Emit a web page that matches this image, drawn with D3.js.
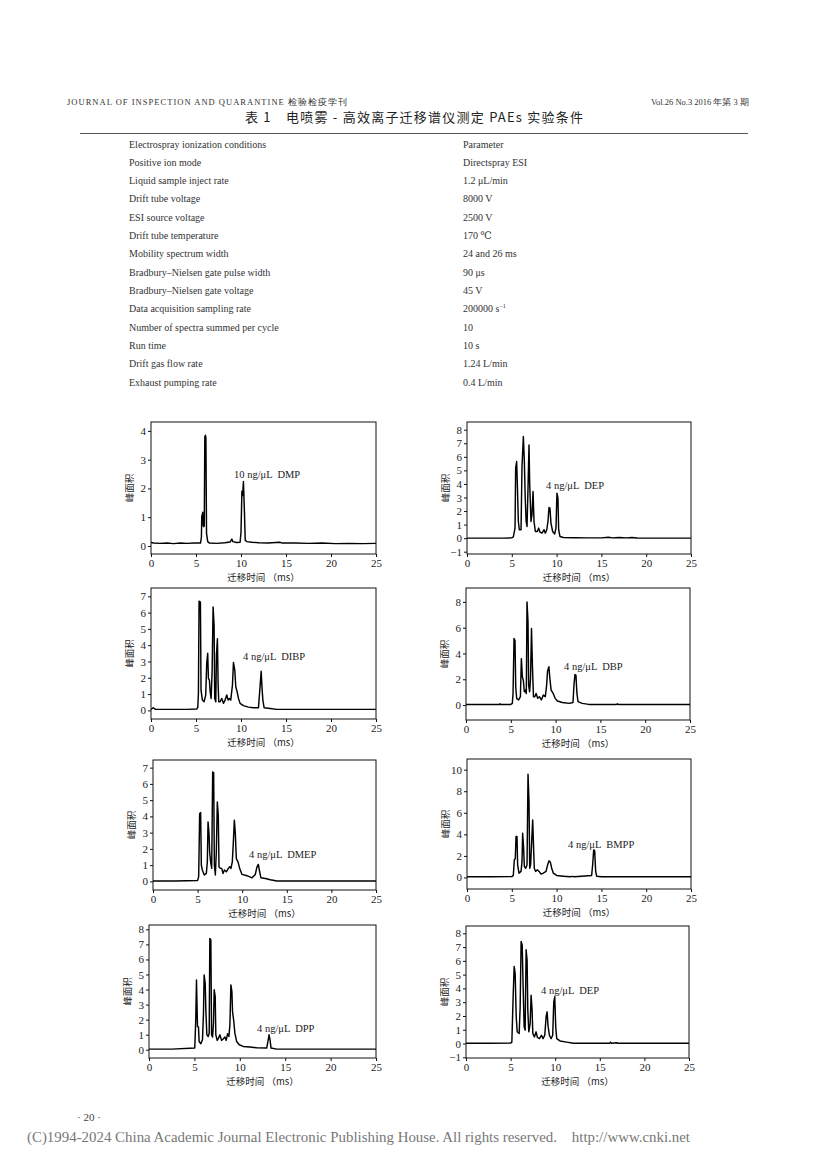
<!DOCTYPE html>
<html><head><meta charset="utf-8">
<script src="https://cdn.jsdelivr.net/npm/d3@7"></script>
<style>
html,body{margin:0;padding:0;background:#fff;}
svg{display:block;}
.serif{font-family:"Liberation Serif","DejaVu Serif",serif;}
.cjk{font-family:"Noto Sans CJK SC","Noto Sans",sans-serif;}
</style></head>
<body><svg id="page" width="826" height="1169"></svg>
<script>
// ---------- DATA ----------
const headerLeft = "JOURNAL OF INSPECTION AND QUARANTINE 检验检疫学刊";
const headerRight = "Vol.26 No.3 2016 年第 3 期";
const tableTitle = "表 1　电喷雾 - 高效离子迁移谱仪测定 PAEs 实验条件";
const conditionNames = ["Electrospray ionization conditions","Positive ion mode","Liquid sample inject rate","Drift tube voltage","ESI source voltage","Drift tube temperature","Mobility spectrum width","Bradbury–Nielsen gate pulse width","Bradbury–Nielsen gate voltage","Data acquisition sampling rate","Number of spectra summed per cycle","Run time","Drift gas flow rate","Exhaust pumping rate"];
const conditionValues = ["Parameter","Directspray ESI","1.2 μL/min","8000 V","2500 V","170 ℃","24 and 26 ms","90 μs","45 V","200000 s^-1","10","10 s","1.24 L/min","0.4 L/min"];
const pageNumber = "· 20 ·";
const copyright = "(C)1994-2024 China Academic Journal Electronic Publishing House. All rights reserved.    http://www.cnki.net";

const xTicks = [0,5,10,15,20,25];
const xLabel = "迁移时间 （ms）";
const yLabel = "峰面积";
const sampleLabels = ["10 ng/μL  DMP","4 ng/μL  DEP","4 ng/μL  DIBP","4 ng/μL  DBP","4 ng/μL  DMEP","4 ng/μL  BMPP","4 ng/μL  DPP","4 ng/μL  DEP"];
const yTicksDMP = [0,1,2,3,4];
const yTicksDEP = [-1,0,1,2,3,4,5,6,7,8];
const yTicksDIBP = [0,1,2,3,4,5,6,7];
const yTicksDBP = [0,2,4,6,8];
const yTicksDMEP = [0,1,2,3,4,5,6,7];
const yTicksBMPP = [0,2,4,6,8,10];
const yTicksDPP = [0,1,2,3,4,5,6,7,8];
const yTicksDEP2 = [-1,0,1,2,3,4,5,6,7,8];

// spectra: [drift time (ms), peak area]
const specDMP = [[0,0.12],[0.3,0.1],[1,0.09],[1.8,0.1],[2.5,0.08],[3.3,0.1],[4,0.09],[4.8,0.1],[5.5,0.1],[5.6,0.3],[5.64,1.02],[5.75,1.17],[5.8,0.7],[5.86,0.67],[5.92,0.7],[5.98,3.8],[6.05,3.85],[6.1,3.75],[6.17,0.44],[6.3,0.15],[6.5,0.1],[7.3,0.09],[8.2,0.11],[8.8,0.14],[8.98,0.24],[9.1,0.15],[9.5,0.12],[9.9,0.13],[10.0,0.47],[10.1,1.9],[10.18,1.75],[10.27,2.24],[10.38,1.2],[10.47,0.2],[10.65,0.15],[11.2,0.13],[12,0.11],[13,0.1],[14.3,0.13],[14.6,0.1],[16,0.1],[17.5,0.09],[19,0.1],[20.5,0.08],[22,0.09],[23.5,0.08],[25,0.09]];
const specDEP = [[0,0],[2,0],[4,0],[4.98,0.02],[5.17,0.1],[5.36,0.74],[5.43,5.16],[5.54,5.65],[5.62,3.93],[5.73,1.23],[5.84,0.62],[6.03,0.62],[6.14,5.29],[6.29,7.5],[6.4,5.66],[6.5,2.95],[6.6,1.23],[6.7,0.86],[6.8,3.44],[6.92,6.88],[7.0,3.93],[7.14,1.23],[7.25,1.72],[7.37,3.44],[7.48,1.23],[7.63,0.49],[7.85,0.49],[8.0,0.74],[8.15,0.44],[8.37,0.37],[8.6,0.62],[8.74,0.37],[8.9,0.62],[9.04,1.23],[9.15,2.26],[9.26,2.21],[9.37,1.11],[9.56,0.49],[9.78,0.3],[9.93,0.74],[10.04,3.32],[10.15,2.95],[10.23,0.62],[10.38,0.12],[10.75,0.05],[12,0.03],[13.5,0.02],[15,0.02],[15.8,0.06],[16.2,0.02],[17,0.05],[17.8,0.02],[18.4,0.05],[19,0.01],[21,0],[25,0]];
const specDIBP = [[0,0.06],[0.25,0.16],[0.5,0.06],[2,0.06],[4,0.06],[5.1,0.08],[5.2,0.2],[5.27,1.04],[5.34,6.7],[5.49,6.65],[5.56,1.24],[5.71,0.63],[5.9,0.53],[6.08,0.94],[6.19,2.88],[6.3,3.5],[6.38,1.96],[6.49,1.86],[6.57,1.14],[6.68,0.73],[6.79,2.37],[6.9,6.35],[7.01,5.2],[7.08,0.73],[7.2,0.53],[7.27,3.4],[7.38,4.4],[7.46,1.55],[7.53,0.53],[7.68,0.53],[7.86,0.73],[8.05,0.43],[8.23,0.63],[8.42,0.94],[8.57,0.63],[8.72,0.73],[8.86,0.63],[9.05,1.55],[9.16,2.94],[9.31,2.47],[9.42,1.45],[9.57,1.14],[9.72,0.73],[9.9,0.43],[10.27,0.29],[10.83,0.2],[11.39,0.16],[11.94,0.16],[12.13,1.55],[12.24,2.4],[12.35,1.24],[12.43,0.63],[12.57,0.16],[13.24,0.12],[13.98,0.06],[25,0.06]];
const specDBP = [[0,0.05],[3.75,0.05],[3.8,0.1],[3.85,0.05],[5.0,0.05],[5.17,0.13],[5.25,0.9],[5.36,5.16],[5.47,5.0],[5.55,1.4],[5.66,0.5],[5.88,0.4],[6.07,0.65],[6.18,3.6],[6.29,2.2],[6.4,1.9],[6.51,1.03],[6.62,1.16],[6.73,0.9],[6.81,8.0],[6.92,6.45],[6.99,1.55],[7.1,1.03],[7.2,2.06],[7.31,5.94],[7.42,2.9],[7.53,0.65],[7.68,0.65],[7.82,0.9],[8.0,0.52],[8.19,0.65],[8.41,0.4],[8.63,0.77],[8.85,0.65],[9.0,1.55],[9.1,2.63],[9.25,2.97],[9.36,2.06],[9.5,1.16],[9.73,0.9],[9.95,0.52],[10.2,0.31],[10.76,0.2],[11.5,0.13],[11.94,0.2],[12.05,1.55],[12.16,2.37],[12.27,2.32],[12.38,0.9],[12.5,0.26],[12.97,0.13],[13.7,0.05],[16.8,0.05],[16.9,0.1],[17,0.05],[25,0.05]];
const specDMEP = [[0,0.02],[2.5,0.02],[5.0,0.06],[5.12,0.29],[5.23,4.17],[5.34,4.24],[5.42,1.0],[5.53,0.7],[5.75,0.39],[5.98,0.49],[6.09,1.2],[6.17,3.66],[6.28,2.95],[6.35,1.82],[6.46,1.2],[6.58,0.8],[6.69,6.73],[6.8,6.69],[6.88,1.0],[6.99,0.39],[7.1,1.82],[7.21,4.89],[7.32,4.07],[7.4,0.9],[7.55,0.8],[7.7,0.8],[7.85,0.49],[8.0,0.7],[8.22,0.59],[8.45,0.8],[8.6,0.9],[8.74,0.8],[8.89,1.2],[9.0,2.33],[9.12,3.77],[9.23,2.95],[9.34,1.41],[9.53,1.2],[9.72,0.8],[9.98,0.43],[10.54,0.35],[11.1,0.22],[11.47,0.43],[11.66,0.9],[11.81,1.04],[11.92,0.7],[12.1,0.22],[12.6,0.18],[13.15,0.1],[13.9,0.02],[25,0.02]];
const specBMPP = [[0,0.06],[2.5,0.06],[5.0,0.08],[5.17,0.19],[5.28,1.64],[5.39,1.73],[5.47,3.8],[5.58,3.8],[5.65,1.17],[5.8,0.4],[6.03,0.56],[6.14,1.48],[6.21,4.1],[6.32,2.72],[6.4,1.02],[6.55,0.86],[6.7,1.17],[6.81,9.57],[6.92,7.04],[7.0,0.86],[7.1,1.17],[7.22,3.33],[7.33,5.34],[7.44,2.56],[7.51,0.86],[7.66,0.56],[7.85,0.71],[8.04,0.56],[8.26,0.31],[8.52,0.4],[8.82,0.56],[9.0,1.17],[9.15,1.54],[9.3,1.42],[9.45,0.86],[9.64,0.4],[10.0,0.19],[10.75,0.12],[11.5,0.06],[11.8,0.1],[12,0.06],[13.91,0.19],[14.03,1.23],[14.14,2.56],[14.25,2.47],[14.36,0.56],[14.47,0.12],[15.03,0.06],[25,0.06]];
const specDPP = [[0,0.04],[2.5,0.04],[5.04,0.11],[5.15,2.0],[5.23,4.64],[5.34,1.55],[5.45,1.5],[5.52,0.55],[5.71,0.4],[5.89,0.66],[6.0,2.43],[6.07,4.97],[6.19,4.42],[6.26,2.65],[6.37,0.99],[6.52,0.88],[6.63,1.1],[6.7,7.4],[6.81,7.3],[6.89,0.99],[7.0,0.84],[7.1,1.77],[7.18,3.98],[7.29,3.54],[7.36,0.99],[7.51,0.62],[7.66,0.77],[7.81,0.99],[7.99,0.62],[8.17,0.71],[8.36,0.84],[8.5,0.62],[8.65,1.06],[8.8,0.88],[8.91,1.66],[9.02,4.31],[9.13,3.87],[9.2,2.54],[9.32,1.99],[9.46,1.1],[9.65,0.55],[9.94,0.33],[10.38,0.22],[11.12,0.18],[11.86,0.13],[12.96,0.11],[13.1,0.55],[13.22,0.99],[13.33,0.66],[13.44,0.11],[14.06,0.04],[25,0.04]];
const specDEP2 = [[0,0.02],[2.5,0.02],[5.0,0.03],[5.14,0.1],[5.29,3.5],[5.4,5.6],[5.51,5.1],[5.63,1.94],[5.74,0.85],[5.96,0.73],[6.07,2.62],[6.18,7.4],[6.3,7.15],[6.41,4.0],[6.52,1.21],[6.63,0.97],[6.74,6.8],[6.85,6.06],[6.93,2.42],[7.04,0.85],[7.19,1.45],[7.3,3.5],[7.41,2.42],[7.49,0.73],[7.67,0.48],[7.86,0.85],[8.01,0.44],[8.23,0.36],[8.46,0.6],[8.64,0.36],[8.83,0.6],[8.98,1.94],[9.09,2.3],[9.2,1.26],[9.35,0.6],[9.54,0.36],[9.72,0.6],[9.84,3.03],[9.95,3.39],[10.06,1.21],[10.17,0.36],[10.54,0.19],[11.29,0.1],[12.03,0.02],[16.13,0.02],[16.2,0.1],[16.32,0.02],[16.88,0.06],[17.0,0.02],[25,0.02]];

// ---------- LAYOUT ----------
const panels = [
  {spec:specDMP,  ticks:yTicksDMP,  ydom:[-0.28,4.31], box:[151,376,422,554], lab:[234,478]},
  {spec:specDEP,  ticks:yTicksDEP,  ydom:[-1.17,8.57], box:[467,691,422,554], lab:[546,489]},
  {spec:specDIBP, ticks:yTicksDIBP, ydom:[-0.53,7.51], box:[151,376,588,719], lab:[243,660]},
  {spec:specDBP,  ticks:yTicksDBP,  ydom:[-1.16,9.08], box:[466,690,588,720], lab:[564,670]},
  {spec:specDMEP, ticks:yTicksDMEP, ydom:[-0.53,7.47], box:[153,376,760,890], lab:[249,858]},
  {spec:specBMPP, ticks:yTicksBMPP, ydom:[-1.07,10.99],box:[467,691,759,889], lab:[568,848]},
  {spec:specDPP,  ticks:yTicksDPP,  ydom:[-0.55,8.29], box:[149,376,925,1058],lab:[257,1032]},
  {spec:specDEP2, ticks:yTicksDEP2, ydom:[-1.05,8.53], box:[466,689,926,1058],lab:[541,994]}
];

const svg = d3.select("#page");
svg.append("rect").attr("width",826).attr("height",1169).attr("fill","#fff");

// header
svg.append("text").attr("class","serif").attr("x",67).attr("y",105)
  .attr("font-size",8.5).attr("fill","#333").attr("textLength",280).attr("lengthAdjust","spacing").text(headerLeft);
svg.append("text").attr("class","serif").attr("x",749).attr("y",105).attr("text-anchor","end")
  .attr("font-size",8.5).attr("fill","#333").text(headerRight);

// table title
svg.append("text").attr("class","cjk").attr("x",245).attr("y",122)
  .attr("font-size",13).attr("font-weight",400).attr("fill","#222")
  .attr("textLength",338).attr("lengthAdjust","spacing").text(tableTitle);
svg.append("line").attr("x1",80).attr("x2",748).attr("y1",133.5).attr("y2",133.5)
  .attr("stroke","#555").attr("stroke-width",1);

// table rows
const rowY = d3.scaleLinear().domain([0,13]).range([147.5,385.5]);
conditionNames.forEach((n,i)=>{
  svg.append("text").attr("class","serif").attr("x",129).attr("y",rowY(i))
    .attr("font-size",10).attr("fill","#333").text(n);
  const v = conditionValues[i];
  const t = svg.append("text").attr("class","serif").attr("x",463).attr("y",rowY(i))
    .attr("font-size",10).attr("fill","#333");
  if (v.includes("^")) {
    const [base,sup] = v.split("^");
    t.append("tspan").text(base);
    t.append("tspan").attr("font-size",6).attr("dy",-4).text(sup.replace("-","−"));
  } else t.text(v);
});

// panels
const xDomain = [0,25];
panels.forEach((p,k)=>{
  const [l,r,tp,b] = p.box;
  const x = d3.scaleLinear().domain(xDomain).range([l,r]);
  const y = d3.scaleLinear().domain(p.ydom).range([b,tp]);
  const g = svg.append("g");
  const cid = "clip"+k;
  g.append("clipPath").attr("id",cid).append("rect").attr("x",l).attr("y",tp).attr("width",r-l).attr("height",b-tp);
  g.append("path").datum(p.spec).attr("clip-path",`url(#${cid})`)
    .attr("d", d3.line().x(d=>x(d[0])).y(d=>y(d[1])))
    .attr("fill","none").attr("stroke","#000").attr("stroke-width",1.45).attr("stroke-linejoin","round");
  g.append("rect").attr("x",l).attr("y",tp).attr("width",r-l).attr("height",b-tp)
    .attr("fill","none").attr("stroke","#111").attr("stroke-width",1);
  const xa = g.append("g").attr("transform",`translate(0,${b})`)
    .call(d3.axisBottom(x).tickValues(xTicks).tickSize(3).tickPadding(2).tickFormat(d3.format("d")));
  const ya = g.append("g").attr("transform",`translate(${l},0)`)
    .call(d3.axisLeft(y).tickValues(p.ticks).tickSize(3).tickPadding(2).tickFormat(d3.format("d")));
  [xa,ya].forEach(a=>{
    a.select(".domain").remove();
    a.selectAll("line").attr("stroke","#111");
    a.selectAll("text").attr("class","serif").attr("font-size",11).attr("fill","#222");
  });
  g.append("text").attr("class","cjk").attr("x",(l+r)/2).attr("y",b+27)
    .attr("text-anchor","middle").attr("font-size",9.5).attr("fill","#222").text(xLabel);
  g.append("text").attr("class","cjk")
    .attr("transform",`translate(${l-18},${(tp+b)/2}) rotate(-90)`)
    .attr("text-anchor","middle").attr("font-size",9.5).attr("fill","#222").text(yLabel);
  g.append("text").attr("class","serif").attr("x",p.lab[0]).attr("y",p.lab[1])
    .attr("font-size",10.5).attr("fill","#222").style("white-space","pre").text(sampleLabels[k]);
});

// footer
svg.append("text").attr("class","serif").attr("x",77).attr("y",1121)
  .attr("font-size",11).attr("fill","#444").text(pageNumber);
svg.append("text").attr("class","serif").attr("x",27).attr("y",1142)
  .attr("font-size",14).attr("fill","#777").style("white-space","pre")
  .attr("textLength",663).attr("lengthAdjust","spacingAndGlyphs").text(copyright);
</script></body></html>
